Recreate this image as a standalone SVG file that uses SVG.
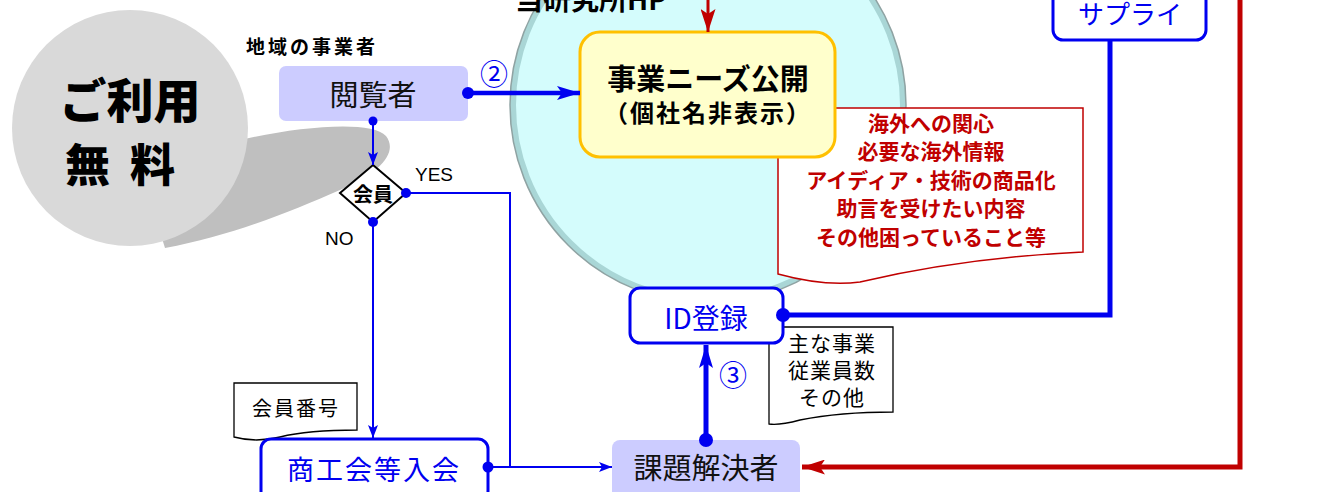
<svg xmlns="http://www.w3.org/2000/svg" width="1331" height="492" viewBox="0 0 1331 492">
<style>
.jp{font-family:"Noto Sans CJK JP","Noto Sans",sans-serif}
.b{font-weight:bold}
.blk{fill:#000}
.blu{fill:#0000f0}
.red{fill:#c00000}
.lb{stroke:#0000f0;fill:none}
.lr{stroke:#c00000;fill:none}
.dot{fill:#0000f0}
.en{font-family:"Liberation Sans",Arial,sans-serif}
</style>
<defs>
<marker id="aThin" markerUnits="userSpaceOnUse" markerWidth="14" markerHeight="10" refX="13" refY="5" orient="auto"><path d="M0,0 L13,5 L0,10 L3,5 Z" fill="#0000f0"/></marker>
<marker id="aThick" markerUnits="userSpaceOnUse" markerWidth="24" markerHeight="14" refX="23" refY="7" orient="auto"><path d="M0,0 L23,7 L0,14 L5,7 Z" fill="#0000f0"/></marker>
<marker id="aRed" markerUnits="userSpaceOnUse" markerWidth="24" markerHeight="15" refX="23" refY="7.5" orient="auto"><path d="M0,0 L23,7.5 L0,15 L5,7.5 Z" fill="#c00000"/></marker>
</defs>
<rect width="1331" height="492" fill="#fff"/>

<!-- free badge -->
<g id="free">
<path d="M240,140 C300,126 372,120 386,136 C398,152 382,172 340,190 C290,212 230,236 165,248 L150,200 Z" fill="#bfbfbf"/>
<circle cx="130" cy="128" r="118" fill="#d9d9d9"/>
<text x="130" y="118" text-anchor="middle" class="jp blk" font-weight="900" font-size="47">ご利用</text>
<text x="130" y="182" text-anchor="middle" class="jp blk" font-weight="900" font-size="45" letter-spacing="20">無料</text>
</g>

<!-- HP circle -->
<g id="hp">
<circle cx="708" cy="105" r="195" fill="#d4fcfc" stroke="#a9d6d6" stroke-width="6"/>
<circle cx="708" cy="105" r="198" fill="none" stroke="#8fa3a3" stroke-width="1.5"/>
<text x="515" y="10" class="jp b blk" font-size="28">当研究所HP</text>
</g>

<!-- red note -->
<g id="note-needs">
<path d="M778,108 H1083 V252 C1000,256 920,268 860,282 C830,286 800,280 778,274 Z" fill="#fff" stroke="#c00000" stroke-width="1.5"/>
<g class="jp b red" font-size="21" text-anchor="middle">
<text x="931" y="131">海外への関心</text>
<text x="931" y="159">必要な海外情報</text>
<text x="931" y="188">アイディア・技術の商品化</text>
<text x="931" y="216">助言を受けたい内容</text>
<text x="931" y="245">その他困っていること等</text>
</g>
</g>

<!-- yellow box -->
<g id="needs-public">
<rect x="580" y="32" width="255" height="125" rx="20" fill="#ffffcc" stroke="#ffc000" stroke-width="3"/>
<text x="708" y="90" text-anchor="middle" class="jp b blk" font-size="29">事業ニーズ公開</text>
<text x="708" y="122" text-anchor="middle" class="jp b blk" font-size="24" letter-spacing="2">（個社名非表示）</text>
</g>

<!-- local business label -->
<text x="246" y="54" class="jp b blk" font-size="19" letter-spacing="3">地域の事業者</text>

<!-- viewer -->
<g id="viewer">
<rect x="279" y="66" width="189" height="55" rx="7" fill="#ccccff"/>
<text x="373" y="106" text-anchor="middle" class="jp" font-size="29" fill="#111">閲覧者</text>
</g>

<!-- diamond -->
<g id="member">
<path d="M373,165 L406,193 L373,222 L340,193 Z" fill="#fff" stroke="#000" stroke-width="2"/>
<text x="373" y="202" text-anchor="middle" class="jp b blk" font-size="20">会員</text>
</g>

<!-- member number note -->
<g id="note-member">
<path d="M234,383 H357 V430 C320,430 300,432 280,437 C260,442 245,440 234,437 Z" fill="#fff" stroke="#000" stroke-width="1.3"/>
<text x="296" y="416" text-anchor="middle" class="jp blk" font-size="20" letter-spacing="2">会員番号</text>
</g>

<!-- join box -->
<g id="join">
<rect x="261" y="439" width="227" height="62" rx="10" fill="#fff" stroke="#0000f0" stroke-width="3"/>
<text x="374" y="480" text-anchor="middle" class="jp blu" font-size="27" letter-spacing="2">商工会等入会</text>
</g>

<!-- info note -->
<g id="note-info">
<path d="M769,327 H893 V412 C860,412 830,414 800,420 C785,424 775,425 769,424 Z" fill="#fff" stroke="#000" stroke-width="1.3"/>
<g class="jp blk" font-size="21" text-anchor="middle" letter-spacing="1">
<text x="832" y="351">主な事業</text>
<text x="832" y="378">従業員数</text>
<text x="832" y="405">その他</text>
</g>
</g>

<!-- ID registration -->
<g id="id-reg">
<rect x="630" y="288" width="153" height="55" rx="10" fill="#fff" stroke="#0000f0" stroke-width="3"/>
<text x="706" y="329" text-anchor="middle" class="jp blu" font-size="28">ID登録</text>
</g>

<!-- solver -->
<g id="solver">
<rect x="612" y="440" width="188" height="60" rx="8" fill="#ccccff"/>
<text x="706" y="479" text-anchor="middle" class="jp" font-size="29" fill="#111">課題解決者</text>
</g>

<!-- supply -->
<g id="supply">
<rect x="1053" y="-12" width="153" height="52" rx="10" fill="#fff" stroke="#0000f0" stroke-width="3"/>
<text x="1130" y="24" text-anchor="middle" class="jp blu" font-size="26">サプライ</text>
</g>

<!-- connectors -->
<g id="connectors">
<path class="lr" stroke-width="3" d="M708,0 V32" marker-end="url(#aRed)"/>
<path class="lb" stroke-width="4.5" d="M468,93 H580" marker-end="url(#aThick)"/>
<circle class="dot" cx="468" cy="93" r="6"/>
<text x="480" y="85" class="jp blu" font-size="28">②</text>

<path class="lb" stroke-width="2" d="M373,121 V165" marker-end="url(#aThin)"/>
<circle class="dot" cx="373" cy="121" r="4.5"/>

<path class="lb" stroke-width="2" d="M406,193 H510 V467"/>
<circle class="dot" cx="406" cy="193" r="5"/>
<text x="415" y="181" class="en blk" font-size="19">YES</text>

<path class="lb" stroke-width="2" d="M373,222 V438" marker-end="url(#aThin)"/>
<circle class="dot" cx="373" cy="222" r="5"/>
<text x="325" y="245" class="en blk" font-size="19">NO</text>

<path class="lb" stroke-width="2" d="M488,467 H612" marker-end="url(#aThin)"/>
<circle class="dot" cx="488" cy="467" r="5.5"/>

<path class="lb" stroke-width="5" d="M706,440 V345" marker-end="url(#aThick)"/>
<circle class="dot" cx="706" cy="440" r="7"/>
<text x="719" y="386" class="jp blu" font-size="28">③</text>

<path class="lb" stroke-width="5" d="M783,315 H1110 V40"/>
<circle class="dot" cx="783" cy="315" r="7"/>

<path class="lr" stroke-width="5" d="M1240,0 V467 H802" marker-end="url(#aRed)"/>
</g>
</svg>
